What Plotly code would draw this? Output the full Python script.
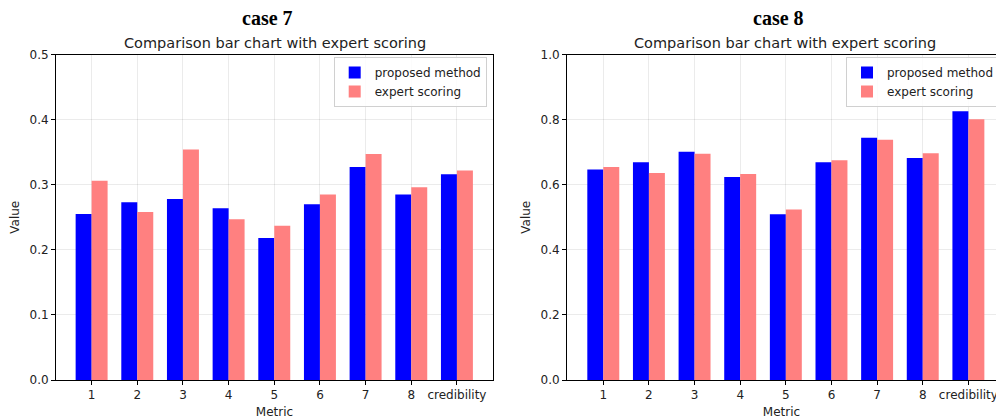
import plotly.graph_objects as go

metrics = ["1", "2", "3", "4", "5", "6", "7", "8", "credibility"]

case7_proposed = [0.255, 0.273, 0.278, 0.264, 0.218, 0.270, 0.327, 0.285, 0.316]
case7_expert = [0.306, 0.258, 0.354, 0.247, 0.237, 0.285, 0.347, 0.296, 0.322]

case8_proposed = [0.647, 0.669, 0.701, 0.624, 0.509, 0.669, 0.744, 0.682, 0.826]
case8_expert = [0.654, 0.636, 0.695, 0.633, 0.524, 0.675, 0.738, 0.697, 0.801]

BLUE = "#0000ff"
PINK = "#ff8080"
FONT = "DejaVu Sans"
W, H = 996, 420

fig = go.Figure()

fig.add_trace(go.Bar(x=metrics, y=case7_proposed, name="proposed method",
                     marker=dict(color=BLUE, line=dict(width=0)),
                     xaxis="x", yaxis="y", legend="legend"))
fig.add_trace(go.Bar(x=metrics, y=case7_expert, name="expert scoring",
                     marker=dict(color=PINK, line=dict(width=0)),
                     xaxis="x", yaxis="y", legend="legend"))
fig.add_trace(go.Bar(x=metrics, y=case8_proposed, name="proposed method",
                     marker=dict(color=BLUE, line=dict(width=0)),
                     xaxis="x2", yaxis="y2", legend="legend2"))
fig.add_trace(go.Bar(x=metrics, y=case8_expert, name="expert scoring",
                     marker=dict(color=PINK, line=dict(width=0)),
                     xaxis="x2", yaxis="y2", legend="legend2"))

ydom = [(H - 380) / H, (H - 54.5) / H]
grid = "rgba(0,0,0,0.08)"

common_x = dict(type="category", showline=True, linecolor="black", linewidth=1,
                ticks="outside", ticklen=4, tickcolor="black", automargin=False,
                showgrid=True, gridcolor=grid, gridwidth=1,
                tickfont=dict(family=FONT, size=12, color="#222"),
                title=dict(text="Metric", font=dict(family=FONT, size=12, color="#222"), standoff=6),
                zeroline=False, fixedrange=True)
common_y = dict(showline=True, linecolor="black", linewidth=1,
                ticks="outside", ticklen=4, tickcolor="black", automargin=False,
                showgrid=True, gridcolor=grid, gridwidth=1,
                tickfont=dict(family=FONT, size=12, color="#222"),
                title=dict(text="Value", font=dict(family=FONT, size=12, color="#222"), standoff=7),
                tickformat=".1f", zeroline=False)

fig.update_layout(
    width=W, height=H,
    margin=dict(l=0, r=0, t=0, b=0, autoexpand=False),
    paper_bgcolor="white", plot_bgcolor="white",
    barmode="group", bargap=0.3, bargroupgap=0,
    font=dict(family=FONT, size=12, color="#222"),
    xaxis=dict(common_x, domain=[56 / W, 493 / W], range=[-0.78, 8.79], anchor="y", mirror=True),
    yaxis=dict(common_y, domain=ydom, range=[0, 0.5], dtick=0.1, anchor="x", mirror=True),
    xaxis2=dict(common_x, domain=[567 / W, 1.0], range=[-0.795, 8.605], anchor="y2", mirror=True),
    yaxis2=dict(common_y, domain=ydom, range=[0, 1.0], dtick=0.2, anchor="x2", mirror=False),
    legend=dict(x=486.7 / W, xanchor="right", y=(H - 57) / H, yanchor="top",
                bordercolor="#d0d0d0", borderwidth=1, bgcolor="rgba(255,255,255,0.85)",
                font=dict(family=FONT, size=12, color="#222"), tracegroupgap=0),
    legend2=dict(x=846 / W, xanchor="left", y=(H - 57) / H, yanchor="top",
                 bordercolor="#d0d0d0", borderwidth=1, bgcolor="rgba(255,255,255,0.85)",
                 font=dict(family=FONT, size=12, color="#222"), tracegroupgap=0),
    annotations=[
        dict(text="<b>case 7</b>", x=267 / W, y=(H - 18) / H, xref="paper", yref="paper",
             xanchor="center", yanchor="middle", showarrow=False,
             font=dict(family="Liberation Serif", size=20, color="black")),
        dict(text="<b>case 8</b>", x=778 / W, y=(H - 18) / H, xref="paper", yref="paper",
             xanchor="center", yanchor="middle", showarrow=False,
             font=dict(family="Liberation Serif", size=20, color="black")),
        dict(text="Comparison bar chart with expert scoring", x=274.5 / W, y=(H - 42.7) / H,
             xref="paper", yref="paper", xanchor="center", yanchor="middle", showarrow=False,
             font=dict(family=FONT, size=14.5, color="#222")),
        dict(text="Comparison bar chart with expert scoring", x=785 / W, y=(H - 42.7) / H,
             xref="paper", yref="paper", xanchor="center", yanchor="middle", showarrow=False,
             font=dict(family=FONT, size=14.5, color="#222")),
    ],
)

fig.write_html("out.html",
               config={"displayModeBar": False},
               post_script="document.body.style.margin='0';document.body.style.overflow='hidden';")
